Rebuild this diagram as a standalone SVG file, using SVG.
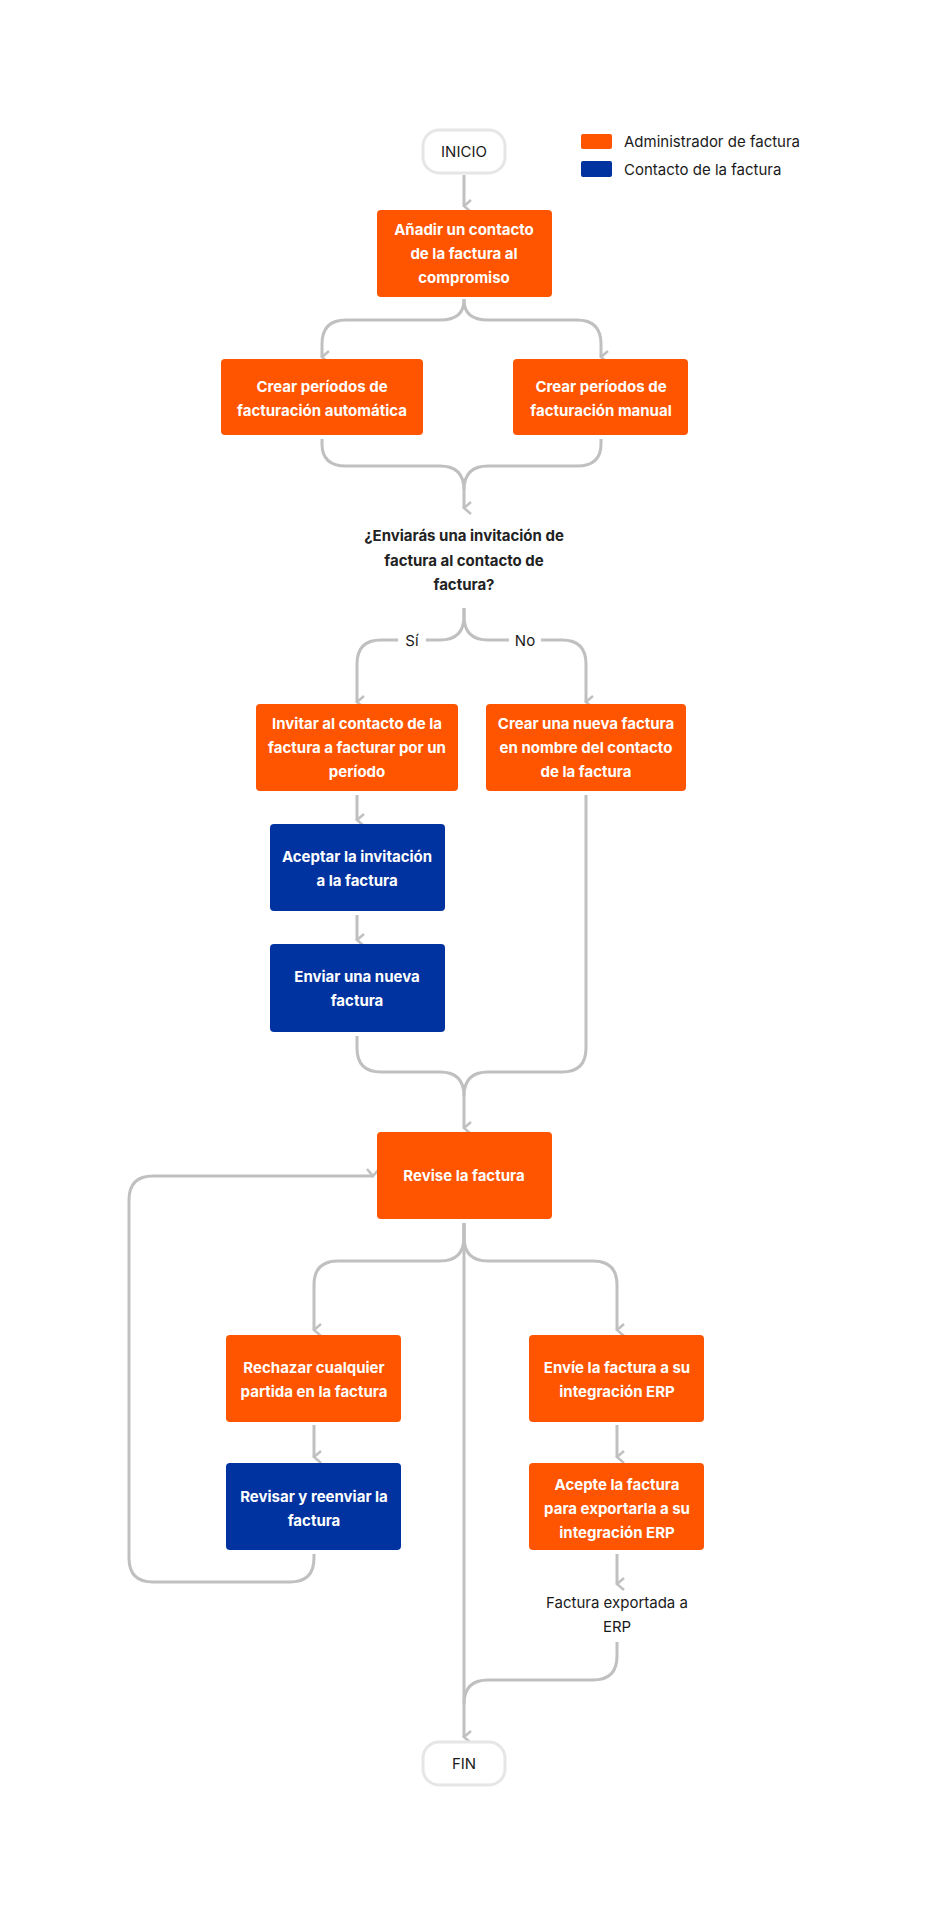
<svg xmlns="http://www.w3.org/2000/svg" width="938" height="1918" viewBox="0 0 938 1918">
<style>
.o{fill:#ff5500}.b{fill:#0033a0}
.t{font-family:Inter,"Liberation Sans",sans-serif;font-size:15px;font-weight:700;fill:#fff;text-anchor:middle}
.d{font-family:Inter,"Liberation Sans",sans-serif;font-size:15px;fill:#1a1a1a;text-anchor:middle}
.q{font-family:Inter,"Liberation Sans",sans-serif;font-size:15px;font-weight:700;fill:#222;text-anchor:middle}
.c path{fill:none;stroke:#c0c0c0;stroke-width:3}
.term{fill:#fff;stroke:#e6e6e6;stroke-width:3}
</style>
<defs><marker id="a" markerWidth="14" markerHeight="14" refX="7" refY="11" orient="auto-start-reverse" markerUnits="userSpaceOnUse" viewBox="0 0 14 14"><path d="M1 4 L7 11 L13 4" fill="none" stroke="#c0c0c0" stroke-width="2.5"/></marker></defs>
<rect width="938" height="1918" fill="#fff"/>
<g class="c">
<path d="M464 175 V206" marker-end="url(#a)"/>
<path d="M464 299 V300 Q464 320 440 320 H346 Q322 320 322 344 V357" marker-end="url(#a)"/>
<path d="M464 299 V300 Q464 320 488 320 H577 Q601 320 601 344 V357" marker-end="url(#a)"/>
<path d="M322 439 V444 Q322 466 346 466 H440 Q464 466 464 490 V508" marker-end="url(#a)"/>
<path d="M601 439 V444 Q601 466 577 466 H488 Q464 466 464 490"/>
<path d="M464 608 V616 Q464 640 440 640 H381 Q357 640 357 664 V702" marker-end="url(#a)"/>
<path d="M464 608 V616 Q464 640 488 640 H562 Q586 640 586 664 V702" marker-end="url(#a)"/>
<path d="M357 795 V820" marker-end="url(#a)"/>
<path d="M357 915 V940" marker-end="url(#a)"/>
<path d="M357 1036 V1048 Q357 1072 381 1072 H440 Q464 1072 464 1096 V1128" marker-end="url(#a)"/>
<path d="M586 795 V1048 Q586 1072 562 1072 H488 Q464 1072 464 1096"/>
<path d="M464 1223 V1237 Q464 1261 440 1261 H338 Q314 1261 314 1285 V1330" marker-end="url(#a)"/>
<path d="M464 1223 V1237 Q464 1261 488 1261 H593 Q617 1261 617 1285 V1330" marker-end="url(#a)"/>
<path d="M464 1223 V1737" marker-end="url(#a)"/>
<path d="M314 1425 V1457" marker-end="url(#a)"/>
<path d="M617 1425 V1457" marker-end="url(#a)"/>
<path d="M314 1554 V1558 Q314 1582 290 1582 H153 Q129 1582 129 1558 V1200 Q129 1176 153 1176 H373" marker-end="url(#a)"/>
<path d="M617 1554 V1584" marker-end="url(#a)"/>
<path d="M617 1642 V1656 Q617 1680 593 1680 H488 Q464 1680 464 1704"/>
</g>
<g id="legend">
<rect class="o" x="581" y="134" width="31" height="15" rx="2"/><text x="624" y="147" class="d" style="text-anchor:start">Administrador de factura</text>
<rect class="b" x="581" y="161" width="31" height="16" rx="2"/><text x="624" y="175" class="d" style="text-anchor:start">Contacto de la factura</text>
</g>
<g id="inicio"><rect class="term" x="423" y="130" width="82" height="43" rx="16"/><text x="464" y="157" class="d">INICIO</text></g>
<g id="n1"><rect class="o" x="377" y="210" width="175" height="87" rx="4"/><text class="t" x="464" y="235">Añadir un contacto</text><text class="t" x="464" y="259">de la factura al</text><text class="t" x="464" y="283">compromiso</text></g>
<g id="n2"><rect class="o" x="221" y="359" width="202" height="76" rx="4"/><text class="t" x="322" y="392">Crear períodos de</text><text class="t" x="322" y="416">facturación automática</text></g>
<g id="n3"><rect class="o" x="513" y="359" width="175" height="76" rx="4"/><text class="t" x="601" y="392">Crear períodos de</text><text class="t" x="601" y="416">facturación manual</text></g>
<g id="q"><text class="q" x="464" y="541">¿Enviarás una invitación de</text><text class="q" x="464" y="566">factura al contacto de</text><text class="q" x="464" y="590">factura?</text></g>
<g id="lbl"><rect x="398" y="630" width="28" height="20" fill="#fff"/><text class="d" x="412" y="646">Sí</text><rect x="509" y="630" width="32" height="20" fill="#fff"/><text class="d" x="525" y="646">No</text></g>
<g id="n4"><rect class="o" x="256" y="704" width="202" height="87" rx="4"/><text class="t" x="357" y="729">Invitar al contacto de la</text><text class="t" x="357" y="753">factura a facturar por un</text><text class="t" x="357" y="777">período</text></g>
<g id="n5"><rect class="o" x="486" y="704" width="200" height="87" rx="4"/><text class="t" x="586" y="729">Crear una nueva factura</text><text class="t" x="586" y="753">en nombre del contacto</text><text class="t" x="586" y="777">de la factura</text></g>
<g id="n6"><rect class="b" x="270" y="824" width="175" height="87" rx="4"/><text class="t" x="357" y="862">Aceptar la invitación</text><text class="t" x="357" y="886">a la factura</text></g>
<g id="n7"><rect class="b" x="270" y="944" width="175" height="88" rx="4"/><text class="t" x="357" y="982">Enviar una nueva</text><text class="t" x="357" y="1006">factura</text></g>
<g id="n8"><rect class="o" x="377" y="1132" width="175" height="87" rx="4"/><text class="t" x="464" y="1181">Revise la factura</text></g>
<g id="n9"><rect class="o" x="226" y="1335" width="175" height="87" rx="4"/><text class="t" x="314" y="1373">Rechazar cualquier</text><text class="t" x="314" y="1397">partida en la factura</text></g>
<g id="n10"><rect class="b" x="226" y="1463" width="175" height="87" rx="4"/><text class="t" x="314" y="1502">Revisar y reenviar la</text><text class="t" x="314" y="1526">factura</text></g>
<g id="n11"><rect class="o" x="529" y="1335" width="175" height="87" rx="4"/><text class="t" x="617" y="1373">Envíe la factura a su</text><text class="t" x="617" y="1397">integración ERP</text></g>
<g id="n12"><rect class="o" x="529" y="1463" width="175" height="87" rx="4"/><text class="t" x="617" y="1490">Acepte la factura</text><text class="t" x="617" y="1514">para exportarla a su</text><text class="t" x="617" y="1538">integración ERP</text></g>
<g id="n13"><text class="d" x="617" y="1608">Factura exportada a</text><text class="d" x="617" y="1632">ERP</text></g>
<g id="fin"><rect class="term" x="423" y="1742" width="82" height="43" rx="16"/><text x="464" y="1769" class="d">FIN</text></g>
</svg>
